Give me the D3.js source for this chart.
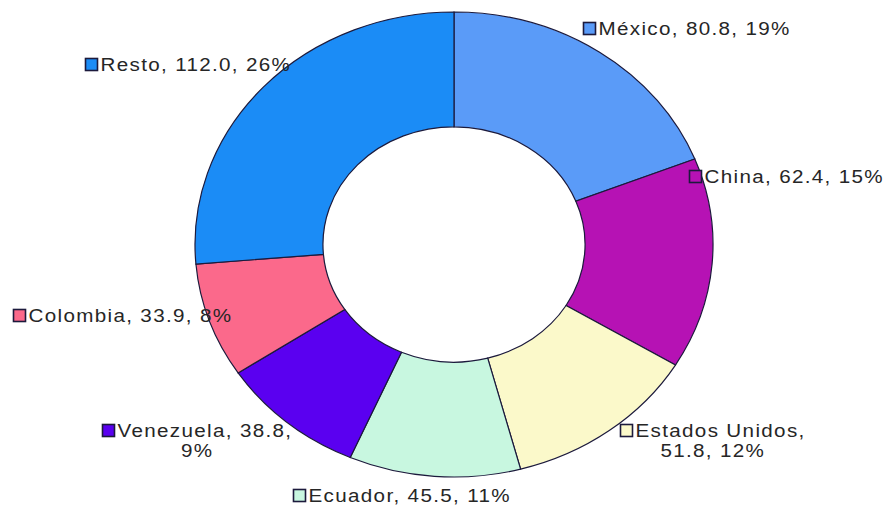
<!DOCTYPE html>
<html>
<head>
<meta charset="utf-8">
<script src="https://cdn.jsdelivr.net/npm/d3@7"></script>
<style>
  html, body { margin: 0; padding: 0; background: #fff; }
  svg text { font-family: "Liberation Sans", Arial, sans-serif; fill: #262626; }
</style>
</head>
<body>
<div id="chart"></div>
<script>
// slices, clockwise from 12 o'clock
const countries = ["México", "China", "Estados Unidos", "Ecuador", "Venezuela", "Colombia", "Resto"];
const values = [80.8, 62.4, 51.8, 45.5, 38.8, 33.9, 112.0];
const percents = ["19%", "15%", "12%", "11%", "9%", "8%", "26%"];
const colors = ["#5a9bf8", "#b612b4", "#fbf9ca", "#c8f7e0", "#5a00f0", "#fb698b", "#1b8cf6"];

// label placement (manually dragged in the original), box top-left corner
const labelPos = [[583, 22], [689, 170], [620, 424], [293, 489], [102, 424], [13, 309], [85, 58]];
// where the label text wraps onto a second line
const labelLines = [
  ["México, 80.8, 19%"],
  ["China, 62.4, 15%"],
  ["Estados Unidos,", "51.8, 12%"],
  ["Ecuador, 45.5, 11%"],
  ["Venezuela, 38.8,", "9%"],
  ["Colombia, 33.9, 8%"],
  ["Resto, 112.0, 26%"]
];

const W = 884, H = 506;
const cx = 454, cy = 244.5;
const ry = 232.5;          // vertical radius
const sx = 259 / 232.5;    // picture is stretched horizontally
const holeRatio = 0.506;

const svg = d3.select("#chart").append("svg")
  .attr("width", W).attr("height", H)
  .attr("viewBox", `0 0 ${W} ${H}`);

const data = countries.map((c, i) => ({ name: c, value: values[i], pct: percents[i], i }));

const pie = d3.pie().sort(null).value(d => d.value);
const arc = d3.arc().innerRadius(ry * holeRatio).outerRadius(ry);

const art = svg.append("g")
  .attr("transform", `translate(${cx},${cy}) scale(${sx},1)`);

art.selectAll(".wedge").data(pie(data)).enter()
  .append("path")
  .attr("class", "wedge")
  .attr("d", arc)
  .attr("fill", d => colors[d.data.i])
  .attr("stroke", "#1c1a3c")
  .attr("stroke-width", 1.2)
  .attr("vector-effect", "non-scaling-stroke");

// labels
const fontSize = 18.5, box = 13, gap = 2.5, lineH = 20;
const spacing = 1.2;
const labels = svg.append("g").attr("class", "labels");

data.forEach((d, i) => {
  const [bx, by] = labelPos[i];
  const g = labels.append("g").attr("class", "label");
  g.append("rect")
    .attr("x", bx + 0.5).attr("y", by + 0.5)
    .attr("width", box - 1).attr("height", box - 1)
    .attr("fill", colors[i])
    .attr("stroke", "#1c1a3c")
    .attr("stroke-width", 1.6);

  const lines = labelLines[i];
  const tx = bx + box + gap;
  const base = by + box;
  const first = g.append("text")
    .attr("transform", `translate(${tx},${base}) scale(${sx},1)`)
    .attr("font-size", fontSize)
    .attr("letter-spacing", spacing)
    .text(lines[0]);

  if (lines.length > 1) {
    const w = first.node().getComputedTextLength() * sx;
    const mid = bx + (box + gap + w) / 2;
    g.append("text")
      .attr("transform", `translate(${mid},${base + lineH}) scale(${sx},1)`)
      .attr("font-size", fontSize)
      .attr("letter-spacing", spacing)
      .attr("text-anchor", "middle")
      .text(lines[1]);
  }
});
</script>
</body>
</html>
